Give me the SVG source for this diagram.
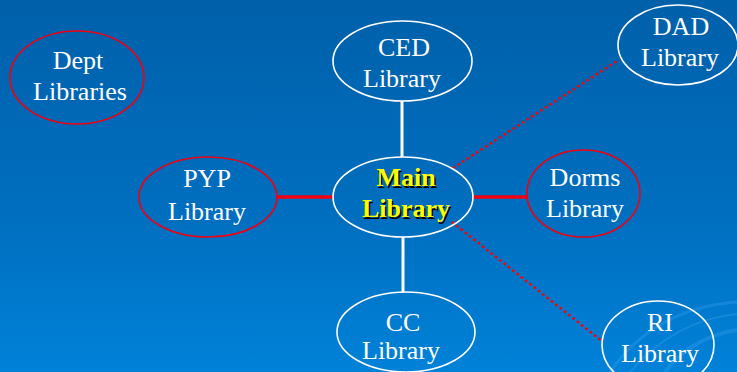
<svg xmlns="http://www.w3.org/2000/svg" width="737" height="372" viewBox="0 0 737 372">
<defs>
<linearGradient id="bg" x1="0" y1="0" x2="0" y2="1">
<stop offset="0" stop-color="#0060aa"/>
<stop offset="0.6" stop-color="#006fc0"/>
<stop offset="1" stop-color="#0082d8"/>
</linearGradient>
<style>
.n{fill:none;stroke-width:1.6}
.w{stroke:#ffffff}
.r{stroke:#f00010}
.t{font-family:"Liberation Serif","Times New Roman",serif;font-size:26px;fill:#ffffff;text-anchor:middle}
.m{font-family:"Liberation Serif","Times New Roman",serif;font-size:26px;font-weight:bold;fill:#ffff00;text-anchor:middle}
.ms{font-family:"Liberation Serif","Times New Roman",serif;font-size:26px;font-weight:bold;fill:#000000;text-anchor:middle}
.sw{fill:none;stroke:#2a9ae8;stroke-opacity:0.45}
</style>
</defs>
<rect x="0" y="0" width="737" height="372" fill="url(#bg)"/>
<g id="swirl">
<path class="sw" stroke-width="3" d="M610 372 Q655 308 737 302"/>
<path class="sw" stroke-width="2" d="M630 372 Q675 320 737 314"/>
<path class="sw" stroke-width="4" d="M665 372 Q692 337 737 330"/>
</g>
<g id="connectors">
<line x1="402" y1="101" x2="402" y2="157" stroke="#ffffff" stroke-width="3"/>
<line x1="403" y1="237" x2="403" y2="292" stroke="#ffffff" stroke-width="3"/>
<line x1="277" y1="197" x2="333" y2="197" stroke="#f00010" stroke-width="3.5"/>
<line x1="473" y1="197" x2="527" y2="197" stroke="#f00010" stroke-width="3.5"/>
<line x1="453" y1="168" x2="617" y2="61" stroke="#ff0000" stroke-width="2.5" stroke-dasharray="2.5 3"/>
<line x1="452" y1="222" x2="603" y2="342" stroke="#ff0000" stroke-width="2.5" stroke-dasharray="2.5 3"/>
</g>
<g id="dept">
<ellipse class="n r" cx="77" cy="77.5" rx="67" ry="46.5"/>
<text class="t" x="78" y="69">Dept</text>
<text class="t" x="80" y="100">Libraries</text>
</g>
<g id="ced">
<ellipse class="n w" cx="402.5" cy="61" rx="69.5" ry="40"/>
<text class="t" x="404" y="56">CED</text>
<text class="t" x="402" y="87">Library</text>
</g>
<g id="dad">
<ellipse class="n w" cx="678" cy="45" rx="60" ry="40"/>
<text class="t" x="681" y="35">DAD</text>
<text class="t" x="680" y="66">Library</text>
</g>
<g id="pyp">
<ellipse class="n r" cx="208" cy="197" rx="69" ry="40"/>
<text class="t" x="207" y="187">PYP</text>
<text class="t" x="207" y="220">Library</text>
</g>
<g id="main">
<ellipse class="n w" cx="403" cy="197" rx="70" ry="40"/>
<text class="ms" x="407.5" y="187.5">Main</text>
<text class="ms" x="407.5" y="218.5">Library</text>
<text class="m" x="406" y="186">Main</text>
<text class="m" x="406" y="217">Library</text>
</g>
<g id="dorms">
<ellipse class="n r" cx="583.5" cy="193.5" rx="56.5" ry="43.5"/>
<text class="t" x="585" y="186">Dorms</text>
<text class="t" x="585" y="217">Library</text>
</g>
<g id="cc">
<ellipse class="n w" cx="406" cy="332" rx="69" ry="40"/>
<text class="t" x="403" y="331">CC</text>
<text class="t" x="401" y="359">Library</text>
</g>
<g id="ri">
<ellipse class="n w" cx="658" cy="345" rx="56" ry="44"/>
<text class="t" x="660" y="331">RI</text>
<text class="t" x="660" y="362">Library</text>
</g>
</svg>
